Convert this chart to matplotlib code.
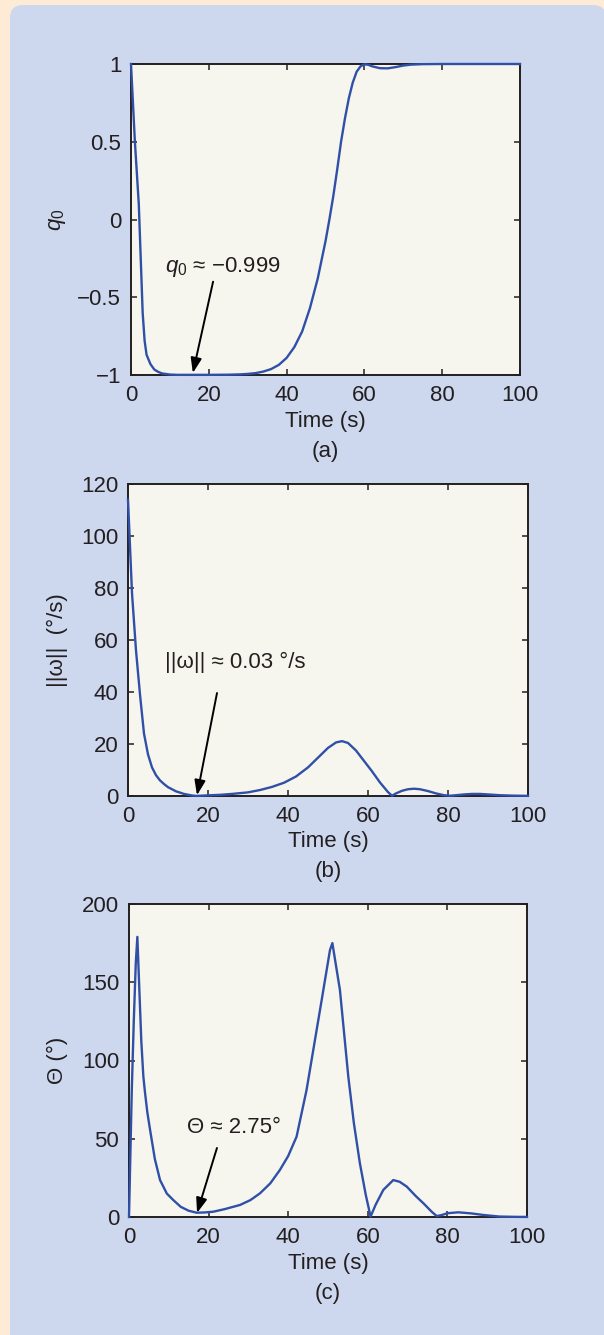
import matplotlib

matplotlib.use("Agg")
import matplotlib.pyplot as plt
from matplotlib.patches import FancyBboxPatch

plt.rcParams["font.family"] = ["Liberation Sans", "DejaVu Sans"]
plt.rcParams["mathtext.fontset"] = "custom"
plt.rcParams["mathtext.rm"] = "Liberation Sans"
plt.rcParams["mathtext.it"] = "Liberation Sans:italic"

# (a) scalar part of the quaternion
t_q0 = [0, 1, 2, 2.5, 3, 3.5, 4, 5, 6, 7, 8, 10, 12, 15, 20, 25, 28, 30, 32, 34, 36, 38,
        40, 42, 44, 46, 48, 50, 51, 52, 53, 54, 55, 56, 57, 58, 59, 60, 61, 62, 64, 66,
        68, 70, 72, 75, 80, 90, 100]
q0 = [1, 0.5, 0.1, -0.25, -0.6, -0.78, -0.87, -0.93, -0.965, -0.98, -0.99, -0.997, -0.999,
      -0.999, -0.999, -0.998, -0.996, -0.993, -0.988, -0.978, -0.962, -0.935, -0.89, -0.82,
      -0.72, -0.57, -0.38, -0.14, 0.0, 0.15, 0.32, 0.5, 0.65, 0.78, 0.88, 0.95, 0.985,
      0.998, 0.995, 0.985, 0.973, 0.972, 0.98, 0.99, 0.996, 0.999, 1, 1, 1]

# (b) angular rate norm
t_w = [0, 1, 2, 3, 4, 5, 6, 7, 8, 9, 10, 12, 14, 16, 17, 18, 20, 23, 26, 30, 33, 36, 39, 42,
       45, 48, 50, 52, 53.5, 55, 57, 59, 61, 63, 65, 66, 67, 68.5, 70, 71.5, 73, 75, 77, 79,
       80.5, 82, 84, 86, 88, 90, 93, 96, 100]
w_norm = [114, 78, 56, 39, 24, 16, 11, 8, 6, 4.6, 3.4, 1.8, 0.8, 0.2, 0.03, 0.1, 0.25, 0.45,
          0.8, 1.4, 2.3, 3.5, 5.1, 7.5, 11, 15.5, 18.5, 20.6, 21.1, 20.4, 17.5, 13.5, 9.5, 5.2,
          1.5, 0.1, 1.0, 2.0, 2.6, 2.8, 2.6, 1.9, 1.0, 0.3, 0.1, 0.3, 0.6, 0.8, 0.8, 0.6, 0.3,
          0.15, 0.05]

# (c) principal angle
t_th = [0, 0.3, 0.7, 1.2, 1.7, 2.1, 2.6, 3.1, 3.6, 4.0, 4.6, 5.3, 6.5, 7.8, 9.5, 11.1, 13, 15,
        17, 19, 21.2, 24, 27.9, 30.5, 32.9, 35.5, 37.9, 40, 42.1, 44.6, 46.3, 48.5, 50.5, 51.1,
        53, 55.1, 56.5, 58, 59.5, 60.7, 62, 63.9, 66.4, 68, 69.8, 72, 74, 76, 77.3, 78.5, 80,
        82.7, 86, 89, 93, 97, 100]
theta = [0, 35, 81, 125, 162, 179, 145, 112, 90, 80, 67, 55.6, 37, 23.6, 15, 10.9, 6.5, 4, 2.75,
         2.9, 3.4, 5, 7.7, 10.8, 15.1, 21.5, 30, 39, 51.3, 81, 106.7, 140, 170.6, 175, 145,
         89.7, 60, 34.5, 14, 0.3, 8, 17.3, 23.6, 22.5, 19.4, 13.5, 8.7, 3.5, 0.6, 1.2, 2.4, 3.0,
         2.3, 1.3, 0.3, 0.1, 0.05]

x_ticks = [0, 20, 40, 60, 80, 100]
y_ticks_a = [-1, -0.5, 0, 0.5, 1]
y_labels_a = ["\u22121", "\u22120.5", "0", "0.5", "1"]
y_ticks_b = [0, 20, 40, 60, 80, 100, 120]
y_ticks_c = [0, 50, 100, 150, 200]

W, H = 604, 1335
PEACH = "#fdebd6"
PANEL = "#cdd7ee"
FACE = "#f6f6ee"
LINE = "#3050a8"
INK = "#231f20"
FS = 16

fig = plt.figure(figsize=(W / 100, H / 100), dpi=100, facecolor=PEACH)

bg = fig.add_axes([0, 0, 1, 1], zorder=-5)
bg.set_xlim(0, W)
bg.set_ylim(H, 0)
bg.axis("off")
bg.add_patch(FancyBboxPatch((10, 5), 596, 1360, boxstyle="round,pad=0,rounding_size=13",
                            facecolor=PANEL, edgecolor="none"))


def make_axes(left, right, top, bottom):
    ax = fig.add_axes([left / W, 1 - bottom / H, (right - left) / W, (bottom - top) / H])
    ax.set_facecolor(FACE)
    for sp in ax.spines.values():
        sp.set_color(INK)
        sp.set_linewidth(1.4)
    ax.tick_params(direction="in", top=True, right=True, length=4, width=1.1,
                   colors=INK, labelsize=FS, pad=7)
    ax.set_xlim(0, 100)
    ax.set_xticks(x_ticks)
    ax.set_xticklabels([str(v) for v in x_ticks])
    ax.annotate("Time (s)", xy=(0.5, 0), xycoords="axes fraction", xytext=(0, -46),
                textcoords="offset pixels", ha="center", va="center", fontsize=FS, color=INK)
    return ax


def ylabel(ax, left, text):
    ax.annotate(text, xy=(0, 0.5), xycoords="axes fraction", xytext=(57 - left, 0),
                textcoords="offset pixels", ha="center", va="center", rotation=90,
                fontsize=FS, color=INK)


def tag(ax, text):
    ax.annotate(text, xy=(0.5, 0), xycoords="axes fraction", xytext=(0, -76),
                textcoords="offset pixels", ha="center", va="center", fontsize=FS, color=INK)


def pointer(ax, start, end):
    ax.annotate("", xy=end, xytext=start,
                arrowprops=dict(arrowstyle="-|>,head_length=0.6,head_width=0.22",
                                color="black", lw=1.4, mutation_scale=15,
                                shrinkA=0, shrinkB=0))


# (a)
ax = make_axes(131, 520, 64, 375)
ax.plot(t_q0, q0, color=LINE, lw=1.7, clip_on=False, zorder=3)
ax.set_ylim(-1, 1)
ax.set_yticks(y_ticks_a)
ax.set_yticklabels(y_labels_a)
ylabel(ax, 131, "$q_0$")
tag(ax, "(a)")
ax.text(8.7, -0.305, "$q_0$ \u2248 \u22120.999", ha="left", va="center", fontsize=FS, color=INK)
pointer(ax, (21.1, -0.40), (15.9, -0.987))

# (b)
ax = make_axes(128, 528, 484, 796)
ax.plot(t_w, w_norm, color=LINE, lw=1.7, clip_on=False, zorder=3)
ax.set_ylim(0, 120)
ax.set_yticks(y_ticks_b)
ax.set_yticklabels([str(v) for v in y_ticks_b])
ylabel(ax, 128, "||\u03c9||  (\u00b0/s)")
tag(ax, "(b)")
ax.text(9.25, 51.5, "||\u03c9|| \u2248 0.03 \u00b0/s", ha="left", va="center", fontsize=FS, color=INK)
pointer(ax, (22.25, 39.6), (17.25, 0.3))

# (c)
ax = make_axes(129, 527, 904, 1217)
ax.plot(t_th, theta, color=LINE, lw=1.7, clip_on=False, zorder=3)
ax.set_ylim(0, 200)
ax.set_yticks(y_ticks_c)
ax.set_yticklabels([str(v) for v in y_ticks_c])
ylabel(ax, 129, "\u0398 (\u00b0)")
tag(ax, "(c)")
ax.text(14.6, 56.9, "\u0398 \u2248 2.75\u00b0", ha="left", va="center", fontsize=FS, color=INK)
pointer(ax, (22.1, 44.1), (17.1, 2.6))

fig.savefig("out.png", dpi=100, facecolor=PEACH)
